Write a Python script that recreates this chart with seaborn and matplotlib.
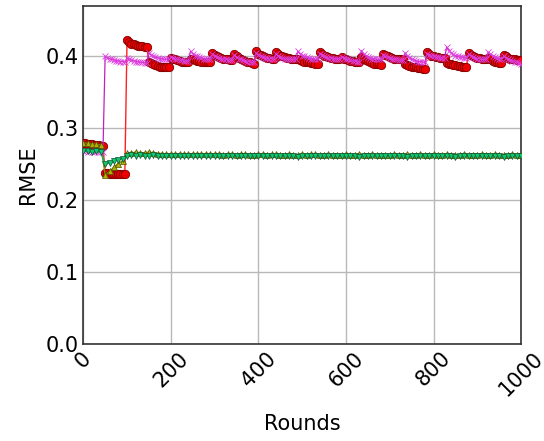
import numpy as np
import pandas as pd
import matplotlib
matplotlib.use("Agg")
import matplotlib.pyplot as plt
import seaborn as sns

# ---- data ----
rounds_fine = list(range(0, 1001, 5))     # red / magenta sampled every 5 rounds
rounds_coarse = list(range(0, 1001, 10))  # green / olive sampled every 10 rounds

red_rmse = [
    0.279,0.279,0.278,0.278,0.278,0.277,0.277,0.277,0.276,0.276,
    0.238,0.238,0.237,0.237,0.237,0.236,0.236,0.236,0.236,0.236,
    0.423,0.420,0.418,0.417,0.416,0.415,0.414,0.414,0.413,0.413,
    0.393,0.391,0.389,0.388,0.387,0.386,0.386,0.385,0.385,0.385,
    0.398,0.397,0.396,0.395,0.394,0.393,0.393,0.392,0.392,
    0.397,0.396,0.395,0.394,0.394,0.393,0.393,0.392,0.392,0.392,
    0.405,0.402,0.400,0.399,0.398,0.397,0.396,0.396,0.395,0.395,
    0.404,0.401,0.398,0.396,0.395,0.394,0.393,0.392,0.391,0.390,
    0.407,0.404,0.402,0.400,0.399,0.398,0.398,0.397,0.397,
    0.406,0.403,0.401,0.400,0.399,0.398,0.398,0.397,0.397,0.397,
    0.397,0.395,0.394,0.393,0.392,0.392,0.391,0.391,0.390,0.390,
    0.406,0.403,0.401,0.400,0.399,0.398,0.398,0.397,0.397,0.397,
    0.399,0.397,0.396,0.395,0.394,0.394,0.393,0.393,0.392,
    0.399,0.397,0.395,0.394,0.392,0.391,0.390,0.389,0.389,0.388,
    0.404,0.402,0.400,0.399,0.398,0.397,0.397,0.396,0.396,0.396,
    0.390,0.388,0.387,0.386,0.385,0.385,0.384,0.384,0.383,0.383,
    0.406,0.403,0.401,0.400,0.399,0.399,0.398,0.398,0.398,
    0.391,0.390,0.389,0.388,0.388,0.387,0.387,0.386,0.386,0.386,
    0.405,0.402,0.400,0.399,0.398,0.398,0.397,0.397,0.397,
    0.398,0.396,0.394,0.393,0.392,0.391,0.391,
    0.402,0.400,0.398,0.397,0.396,0.396,0.395,0.395,0.395,
]

magenta_rmse = [
    0.268,0.268,0.267,0.268,0.267,0.267,0.268,0.267,0.267,0.267,
    0.400,0.398,0.397,0.396,0.395,0.394,0.394,0.393,0.393,0.392,
    0.398,0.396,0.395,0.394,0.393,0.393,0.392,0.392,0.391,0.391,
    0.405,0.402,0.400,0.399,0.398,0.397,0.397,0.396,0.396,0.396,
    0.399,0.398,0.397,0.396,0.395,0.395,0.394,0.394,0.394,
    0.407,0.404,0.401,0.400,0.399,0.398,0.397,0.397,0.396,0.396,
    0.403,0.401,0.399,0.398,0.397,0.396,0.396,0.395,0.395,0.395,
    0.402,0.399,0.397,0.396,0.395,0.394,0.393,0.393,0.392,0.392,
    0.405,0.402,0.400,0.399,0.398,0.398,0.397,0.397,0.397,
    0.404,0.401,0.399,0.398,0.397,0.397,0.396,0.396,0.396,0.396,
    0.407,0.404,0.401,0.400,0.399,0.398,0.397,0.397,0.396,0.396,
    0.404,0.402,0.400,0.399,0.398,0.398,0.397,0.397,0.397,0.397,
    0.399,0.398,0.397,0.396,0.395,0.394,0.394,0.393,0.393,
    0.408,0.404,0.401,0.399,0.398,0.397,0.397,0.396,0.396,0.396,
    0.402,0.400,0.399,0.398,0.397,0.396,0.396,0.395,0.395,0.395,
    0.405,0.401,0.398,0.396,0.395,0.394,0.393,0.393,0.392,0.392,
    0.404,0.402,0.401,0.400,0.399,0.399,0.398,0.398,0.398,
    0.413,0.408,0.405,0.403,0.401,0.400,0.399,0.399,0.398,0.398,
    0.403,0.401,0.399,0.398,0.397,0.397,0.396,0.396,0.396,
    0.406,0.403,0.401,0.399,0.398,0.397,0.397,
    0.400,0.398,0.396,0.395,0.394,0.393,0.392,0.391,0.390,
]

green_rmse = [
    0.268,0.268,0.267,0.268,0.267,
    0.250,0.252,0.254,0.256,0.258,
    0.262,0.263,0.262,0.263,0.262,0.262,0.263,0.262,0.262,0.261,
    0.262,0.262,0.261,0.262,0.261,0.262,0.262,0.261,0.262,0.261,
    0.261,0.262,0.261,0.261,0.262,0.261,0.261,0.262,0.261,0.261,
    0.262,0.261,0.261,0.261,0.262,0.261,0.261,0.262,0.261,0.260,
    0.261,0.261,0.262,0.261,0.261,0.261,0.262,0.261,0.261,0.261,
    0.262,0.261,0.261,0.260,0.261,0.261,0.262,0.261,0.261,0.261,
    0.261,0.262,0.261,0.261,0.260,0.261,0.261,0.262,0.261,0.261,
    0.261,0.261,0.262,0.261,0.261,0.260,0.261,0.261,0.262,0.261,
    0.261,0.261,0.262,0.261,0.261,0.261,0.260,0.261,0.261,0.261,
    0.261,
]

olive_rmse = [
    0.280,0.279,0.278,0.278,0.277,
    0.235,0.240,0.246,0.251,0.255,
    0.266,0.266,0.267,0.266,0.266,0.267,0.266,0.265,0.265,0.264,
    0.264,0.264,0.265,0.264,0.264,0.265,0.264,0.264,0.265,0.264,
    0.264,0.264,0.263,0.264,0.264,0.263,0.264,0.264,0.263,0.263,
    0.264,0.264,0.263,0.264,0.264,0.263,0.263,0.264,0.263,0.263,
    0.264,0.263,0.264,0.264,0.263,0.263,0.264,0.263,0.263,0.263,
    0.264,0.263,0.263,0.264,0.263,0.263,0.264,0.263,0.263,0.263,
    0.263,0.264,0.263,0.263,0.264,0.263,0.263,0.264,0.263,0.263,
    0.264,0.263,0.263,0.264,0.263,0.263,0.263,0.264,0.263,0.263,
    0.263,0.264,0.263,0.263,0.264,0.263,0.263,0.263,0.264,0.263,
    0.263,
]

x_ticks = [0, 200, 400, 600, 800, 1000]
y_ticks = [0.0, 0.1, 0.2, 0.3, 0.4]

# ---- plot ----
sns.set_style("white")
plt.rcParams['font.family'] = ['DejaVu Sans']
plt.rcParams['text.color'] = 'black'
plt.rcParams['axes.labelcolor'] = 'black'
plt.rcParams['xtick.color'] = 'black'
plt.rcParams['ytick.color'] = 'black'

fig = plt.figure(figsize=(5.44, 4.41), dpi=100)
ax = fig.add_axes([0.153, 0.22, 0.805, 0.766])

sns.lineplot(x=rounds_fine, y=red_rmse, ax=ax, color='#ff2020', lw=1.0,
             marker='o', markersize=6, markerfacecolor='#ee0000',
             markeredgecolor='#800000', markeredgewidth=0.6, zorder=3)
sns.lineplot(x=rounds_fine, y=magenta_rmse, ax=ax, color='#c020c0', lw=0.9,
             marker='x', markersize=4.5, markeredgewidth=0.6,
             markeredgecolor='#e040e0', zorder=4)
sns.lineplot(x=rounds_coarse, y=olive_rmse, ax=ax, color='#8a8a00', lw=1.0,
             marker='^', markersize=5, markerfacecolor='#b0b000',
             markeredgecolor='#505000', markeredgewidth=0.5, zorder=5)
sns.lineplot(x=rounds_coarse, y=green_rmse, ax=ax, color='#10b060', lw=1.0,
             marker='v', markersize=5, markerfacecolor='#10c870',
             markeredgecolor='#105030', markeredgewidth=0.5, zorder=6)

ax.set_xlim(0, 1000)
ax.set_ylim(0, 0.47)
ax.set_xticks(x_ticks)
ax.set_yticks(y_ticks)
ax.set_xticklabels([str(t) for t in x_ticks], rotation=45, fontsize=15)
ax.set_yticklabels([f"{t:.1f}" for t in y_ticks], fontsize=15)
ax.tick_params(direction='in', length=4, color='#555555', pad=3)
ax.grid(True, color='#b8b8b8', lw=1.0)
ax.set_axisbelow(True)
for s in ax.spines.values():
    s.set_color('#333333')
    s.set_linewidth(1.2)
ax.set_xlabel('Rounds', fontsize=15, labelpad=10)
ax.set_ylabel('RMSE', fontsize=15, labelpad=6)

fig.savefig('out.png', dpi=100)
